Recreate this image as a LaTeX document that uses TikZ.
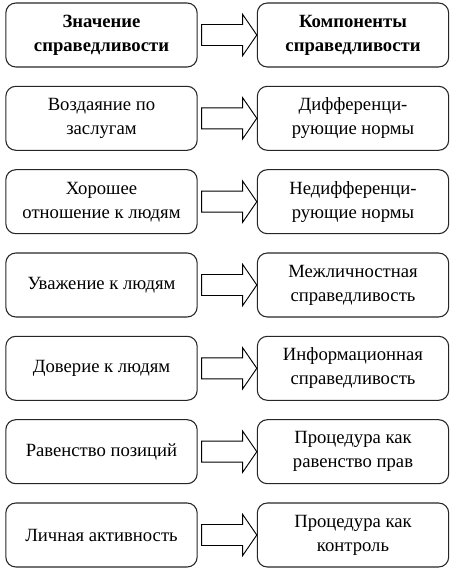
\documentclass[tikz,border=0pt]{standalone}
\usepackage{fontspec}
\setmainfont{Liberation Serif}
\usetikzlibrary{calc}
\begin{document}
\begin{tikzpicture}[x=0.75pt,y=-0.75pt,
  box/.style={draw=black!85, line width=0.8pt, rounded corners=7.5pt,
    minimum width=143.5pt, minimum height=48pt, align=center, inner sep=0pt,
    font=\fontsize{14}{18}\selectfont},
  hd/.style={font=\fontsize{14}{18}\selectfont\bfseries},
  blockarrow/.style={draw=black, line width=0.7pt, fill=white}]
\useasboundingbox (0,0) rectangle (456,581);
\node[box,hd] (l1) at (101.5,35) {Значение\\справедливости};
\node[box,hd] (r1) at (353,35) {Компоненты\\справедливости};
\node[box] (l2) at (101.5,118.3) {Воздаяние по\\заслугам};
\node[box] (r2) at (353,118.3) {Дифференци-\\рующие нормы};
\node[box] (l3) at (101.5,201.7) {Хорошее\\отношение к людям};
\node[box] (r3) at (353,201.7) {Недифференци-\\рующие нормы};
\node[box] (l4) at (101.5,285) {Уважение к людям};
\node[box] (r4) at (353,285) {Межличностная\\справедливость};
\node[box] (l5) at (101.5,368.3) {Доверие к людям};
\node[box] (r5) at (353,368.3) {Информационная\\справедливость};
\node[box] (l6) at (101.5,451.7) {Равенство позиций};
\node[box] (r6) at (353,451.7) {Процедура как\\равенство прав};
\node[box] (l7) at (101.5,535) {Личная активность};
\node[box] (r7) at (353,535) {Процедура как\\контроль};
\foreach \i in {1,...,7}{
  \draw[blockarrow] ($(l\i.east)+(4,-10.5)$) -- ($(l\i.east)+(45,-10.5)$)
    -- ($(l\i.east)+(45,-20.5)$) -- (r\i.west) -- ($(l\i.east)+(45,20.5)$)
    -- ($(l\i.east)+(45,10.5)$) -- ($(l\i.east)+(4,10.5)$) -- cycle;
}
\end{tikzpicture}
\end{document}
